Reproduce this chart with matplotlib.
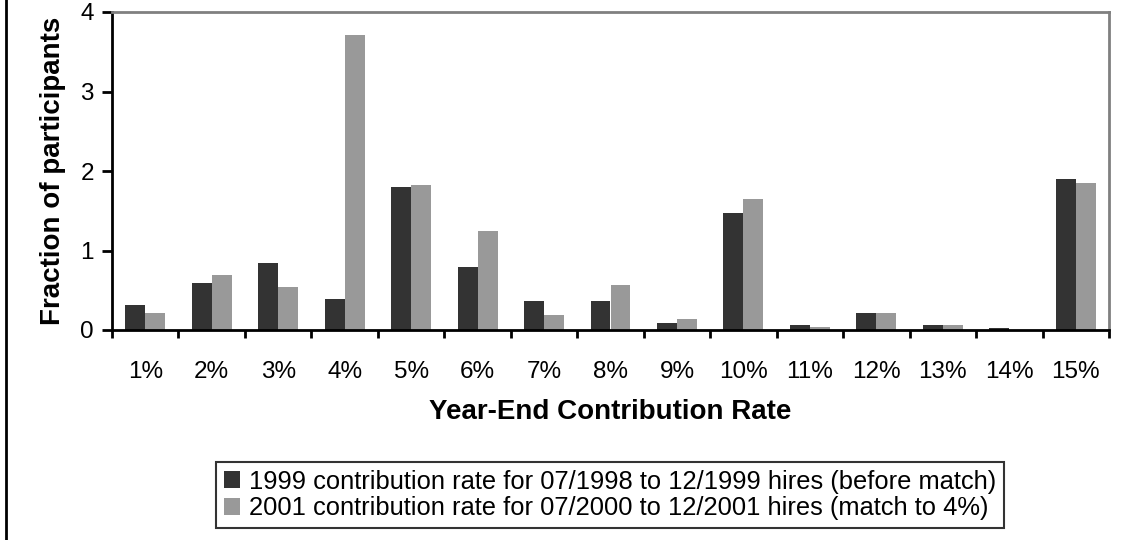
import matplotlib
matplotlib.use("Agg")
import matplotlib.pyplot as plt
import numpy as np

plt.rcParams["font.family"] = ["Liberation Sans", "DejaVu Sans"]

rates = ["1%", "2%", "3%", "4%", "5%", "6%", "7%", "8%", "9%", "10%",
         "11%", "12%", "13%", "14%", "15%"]
before_1999 = [0.31, 0.59, 0.84, 0.39, 1.80, 0.79, 0.36, 0.36, 0.09, 1.47,
               0.06, 0.21, 0.06, 0.03, 1.90]
after_2001 = [0.21, 0.69, 0.54, 3.71, 1.82, 1.25, 0.19, 0.57, 0.14, 1.65,
              0.04, 0.21, 0.06, 0.00, 1.85]
labels = ["1999 contribution rate for 07/1998 to 12/1999 hires (before match)",
          "2001 contribution rate for 07/2000 to 12/2001 hires (match to 4%)"]

fig = plt.figure(figsize=(11.25, 5.4), dpi=100)
ax = fig.add_axes([112 / 1125, 1 - 330 / 540, (1109 - 112) / 1125, (330 - 12) / 540])

x = np.arange(len(rates))
w = 0.3
ax.bar(x - w / 2, before_1999, width=w, color="#333333", label=labels[0])
ax.bar(x + w / 2, after_2001, width=w, color="#999999", label=labels[1])

ax.set_xlim(-0.5, len(rates) - 0.5)
ax.set_ylim(0, 4)
ax.set_yticks([0, 1, 2, 3, 4])
ax.set_xticks(x)
ax.set_xticklabels(rates)
# tick marks sit between the categories, like the Excel original
ax.set_xticks(np.arange(-0.5, len(rates)), minor=True)
ax.tick_params(axis="x", which="major", length=0, pad=22, labelsize=17.5)
ax.tick_params(axis="x", which="minor", length=6, width=2, direction="out", color="black")
ax.tick_params(axis="y", length=7, width=2, direction="out", labelsize=17.5, pad=6)

for s in ["top", "right"]:
    ax.spines[s].set_color("#808080")
    ax.spines[s].set_linewidth(2)
for s in ["left", "bottom"]:
    ax.spines[s].set_color("black")
    ax.spines[s].set_linewidth(2)

ax.set_ylabel("Fraction of participants", fontsize=20, fontweight="bold", labelpad=10)
ax.set_xlabel("Year-End Contribution Rate", fontsize=20, fontweight="bold", labelpad=12)

leg = fig.legend(loc="center", bbox_to_anchor=(610 / 1125, 1 - 495 / 540),
                 fontsize=18.4, frameon=True, fancybox=False, edgecolor="black",
                 handlelength=0.63, handleheight=0.63, handletextpad=0.35,
                 borderpad=0.3, labelspacing=0.1, borderaxespad=0)
leg.get_frame().set_linewidth(1.5)

# chart-area border on the left edge
fig.add_artist(plt.Line2D([6 / 1125, 6 / 1125], [0, 1], color="black", linewidth=2,
                          transform=fig.transFigure))

fig.savefig("out.png", dpi=100)
